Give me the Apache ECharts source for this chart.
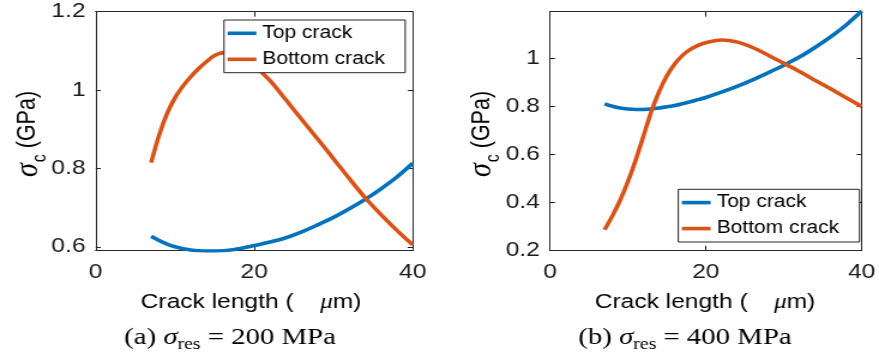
<!DOCTYPE html>
<html><head><meta charset="utf-8">
<script src="https://cdn.jsdelivr.net/npm/echarts@6/dist/echarts.min.js"></script>
<style>
html,body{margin:0;padding:0;background:#fff;overflow:hidden;}
#c{width:733px;height:362px;transform:scaleX(1.199181);transform-origin:0 0;}
</style>
</head><body><div id="c"></div>
<script>
// ---- data ----
const crackLength = [7,8,9,10,11,12,13,14,15,16,17,18,19,20,22,24,26,28,30,32,34,36,38,40];
// (a) sigma_res = 200 MPa
const topCrackA    = [0.627,0.616,0.607,0.600,0.595,0.592,0.590,0.589,0.589,0.590,0.592,0.595,0.599,0.603,0.612,0.623,0.638,0.656,0.675,0.697,0.721,0.748,0.778,0.813];
const bottomCrackA = [0.815,0.885,0.940,0.980,1.010,1.034,1.055,1.073,1.088,1.095,1.094,1.087,1.075,1.062,1.024,0.975,0.925,0.875,0.825,0.774,0.725,0.682,0.642,0.605];
// (b) sigma_res = 400 MPa
const topCrackB    = [0.811,0.801,0.794,0.790,0.788,0.788,0.790,0.794,0.799,0.805,0.812,0.820,0.829,0.838,0.860,0.884,0.911,0.941,0.972,1.006,1.046,1.090,1.140,1.198];
const bottomCrackB = [0.287,0.345,0.410,0.488,0.578,0.678,0.780,0.862,0.928,0.977,1.013,1.038,1.055,1.066,1.077,1.069,1.046,1.014,0.980,0.946,0.910,0.874,0.837,0.800];
const seriesNames = ['Top crack','Bottom crack'];
const xTicks  = [0,20,40];
const yTicksA = [0.6,0.8,1,1.2];
const yTicksB = [0.2,0.4,0.6,0.8,1];
const captions = ['200','400'];

// ---- layout ----
const S = 879/733;            // horizontal stretch of the reference
const px = v => v / S;
const BLUE = '#0072BD', ORANGE = '#D95319', INK = '#262626';
const SANS = "'Liberation Sans', Arial, sans-serif";
const SERIF = "'Liberation Serif', 'Times New Roman', serif";
const FS = 20.5;

const grids = [
  {left: px(95.7), top: 11.7, width: px(317), height: 239},
  {left: px(550),  top: 11.7, width: px(316.7), height: 239}
];
const yRanges = [[0.59, 1.2], [0.2, 1.195]];
const yTickSets = [yTicksA, yTicksB];

const xAxes = [], yAxes = [];
[0,1].forEach(g => {
  ['bottom','top'].forEach(pos => {
    xAxes.push({
      type:'value', gridIndex:g, position:pos, min:0, max:40,
      axisLine:{show:true, onZero:false, lineStyle:{color:INK, width:1}},
      axisTick:{show:true, inside:true, length:5, customValues:xTicks, lineStyle:{color:INK}},
      axisLabel:{show:pos==='bottom', customValues:xTicks, margin:11, color:'#1a1a1a', fontFamily:SANS, fontSize:FS},
      splitLine:{show:false}
    });
  });
  ['left','right'].forEach(pos => {
    yAxes.push({
      type:'value', gridIndex:g, position:pos, min:yRanges[g][0], max:yRanges[g][1],
      axisLine:{show:true, onZero:false, lineStyle:{color:INK, width:1}},
      axisTick:{show:true, inside:true, length:4.2, customValues:yTickSets[g], lineStyle:{color:INK}},
      axisLabel:{show:pos==='left', customValues:yTickSets[g], margin:8.5, color:'#1a1a1a', fontFamily:SANS, fontSize:FS},
      splitLine:{show:false}
    });
  });
});

const zip = arr => crackLength.map((x,i) => [x, arr[i]]);
const mk = (name, arr, color, g) => ({
  name, type:'line', xAxisIndex:g*2, yAxisIndex:g*2, data:zip(arr),
  showSymbol:false, smooth:0.3, lineStyle:{color, width:3.6}, itemStyle:{color}
});
const series = [
  mk(seriesNames[0], topCrackA, BLUE, 0),
  mk(seriesNames[1], bottomCrackA, ORANGE, 0),
  mk(seriesNames[0], topCrackB, BLUE, 1),
  mk(seriesNames[1], bottomCrackB, ORANGE, 1)
];

const legendBase = {
  orient:'vertical', data:seriesNames, icon:'rect', itemWidth:24, itemHeight:3.6, itemGap:6,
  padding:[3.3,17,3.4,3], backgroundColor:'#fff', borderColor:INK, borderWidth:1, borderRadius:0,
  textStyle:{color:'#000', fontFamily:SANS, fontSize:17.5, lineHeight:20}, selectedMode:false
};
const legends = [
  Object.assign({}, legendBase, {left: px(224), top: 20}),
  Object.assign({}, legendBase, {left: px(678.3), top: 189.3})
];

const yName = (x) => ({
  type:'text', x:x, y:134, rotation:Math.PI/2,
  style:{
    text:'{s|σ}{c|c}{g| (GPa)}', align:'center', verticalAlign:'middle',
    rich:{
      s:{fontFamily:SERIF, fontStyle:'italic', fontSize:28, fill:'#000'},
      c:{fontFamily:SANS, fontSize:16, fill:'#000', padding:[20,0,0,1]},
      g:{fontFamily:SANS, fontSize:21.5, fill:'#000'}
    }
  }
});
const xName = (x) => ({
  type:'text', x:x, y:302,
  style:{
    text:'{a|Crack length (}{m|μ}{a|m)}', align:'center', verticalAlign:'middle',
    rich:{
      a:{fontFamily:SANS, fontSize:FS, fill:'#000'},
      m:{fontFamily:SERIF, fontStyle:'italic', fontSize:21, fill:'#000', padding:[0,0,0,22]}
    }
  }
});
const caption = (x, lbl, val) => ({
  type:'text', x:x, y:338,
  style:{
    text:'{t|(' + lbl + ') }{s|σ}{r|res}{t| = ' + val + ' MPa}', align:'center', verticalAlign:'middle',
    rich:{
      t:{fontFamily:SERIF, fontSize:24, fill:'#000'},
      s:{fontFamily:SERIF, fontStyle:'italic', fontSize:24, fill:'#000'},
      r:{fontFamily:SERIF, fontSize:16.5, fill:'#000', padding:[14,0,0,0]}
    }
  }
});

const chart = echarts.init(document.getElementById('c'), null, {renderer:'canvas', width:733, height:362});
chart.setOption({
  animation:false,
  backgroundColor:'#fff',
  grid:grids,
  xAxis:xAxes,
  yAxis:yAxes,
  legend:legends,
  series:series,
  graphic:[
    yName(px(28)), yName(px(482)),
    xName(px(251)), xName(px(705)),
    caption(px(230), 'a', captions[0]), caption(px(685), 'b', captions[1])
  ]
});
</script>
</body></html>
